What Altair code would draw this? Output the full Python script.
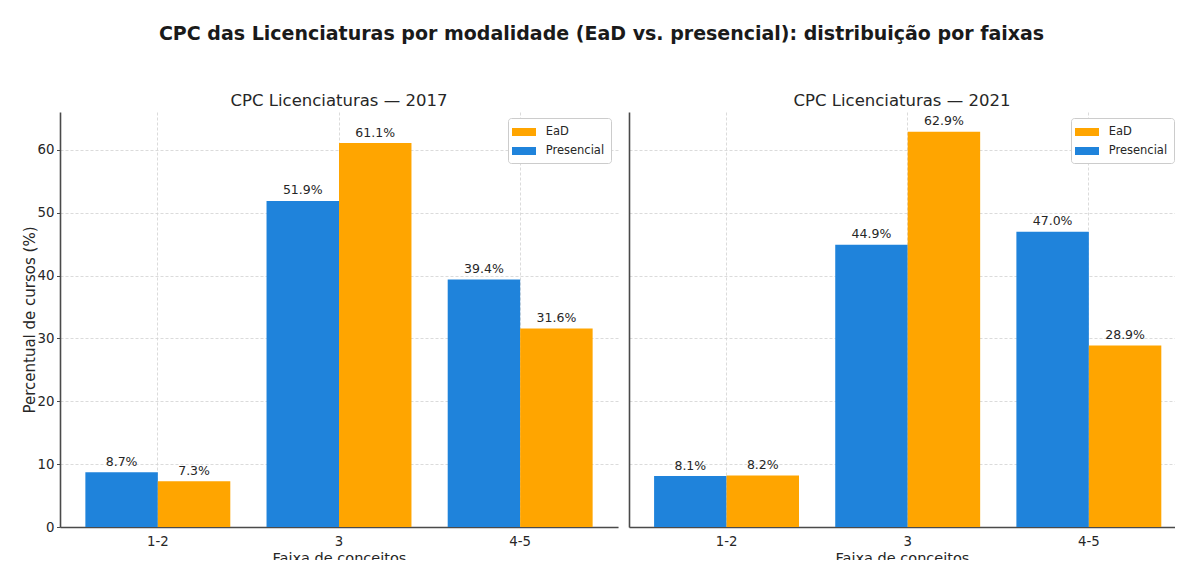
import altair as alt
import pandas as pd

# ---- data ----
faixas = ["1-2", "3", "4-5"]
modalidades = ["EaD", "Presencial"]
ordem_barras = ["Presencial", "EaD"]
presencial_2017 = [8.7, 51.9, 39.4]
ead_2017 = [7.3, 61.1, 31.6]
presencial_2021 = [8.1, 44.9, 47.0]
ead_2021 = [8.2, 62.9, 28.9]
y_ticks = [0, 10, 20, 30, 40, 50, 60]
y_max = 66.045

titulo = "CPC das Licenciaturas por modalidade (EaD vs. presencial): distribuição por faixas"
sub_2017 = "CPC Licenciaturas — 2017"
sub_2021 = "CPC Licenciaturas — 2021"
eixo_x = "Faixa de conceitos"
eixo_y = "Percentual de cursos (%)"

ORANGE = "#FFA500"
BLUE = "#1F83DB"
FONT = "DejaVu Sans"
GRID = "#d2d2d2"
AXIS = "#4a4a4a"
TEXT = "#262626"


def tabela(pres, ead):
    rows = []
    for f, p, e in zip(faixas, pres, ead):
        rows.append({"faixa": f, "modalidade": "Presencial", "valor": p, "rotulo": f"{p:.1f}%"})
        rows.append({"faixa": f, "modalidade": "EaD", "valor": e, "rotulo": f"{e:.1f}%"})
    return pd.DataFrame(rows)


def painel(df, titulo_painel, primeiro, largura, p_ext, alinhamento, leg_x):
    x = alt.X(
        "faixa:N", sort=faixas,
        scale=alt.Scale(paddingInner=0.2, paddingOuter=p_ext, align=alinhamento),
        axis=alt.Axis(
            title=eixo_x, labelAngle=0, grid=True, bandPosition=0.5,
            gridColor=GRID, gridDash=[3, 2], gridWidth=0.8,
            ticks=False, labelPadding=7.5, labelFontSize=13.3,
            titleFontSize=14.5, titlePadding=4,
            domainColor=AXIS, domainWidth=1.6,
        ),
    )
    xo = alt.XOffset("modalidade:N", sort=ordem_barras,
                     scale=alt.Scale(paddingInner=0, paddingOuter=0))
    if primeiro:
        yaxis = alt.Axis(
            values=y_ticks, grid=True, gridColor=GRID, gridDash=[3, 2], gridWidth=0.8,
            title=eixo_y, titleFontSize=15, titlePadding=0,
            labelFontSize=13.3, labelPadding=2.5, tickSize=3.5, tickColor=AXIS,
            domainColor=AXIS, domainWidth=1.6,
        )
    else:
        yaxis = alt.Axis(
            values=y_ticks, grid=True, gridColor=GRID, gridDash=[3, 2], gridWidth=0.8,
            title=None, labels=False, ticks=False,
            domainColor=AXIS, domainWidth=1.6,
        )
    y = alt.Y("valor:Q", scale=alt.Scale(domain=[0, y_max], nice=False, zero=True), axis=yaxis)

    cor = alt.Color(
        "modalidade:N",
        scale=alt.Scale(domain=modalidades, range=[ORANGE, BLUE]),
        legend=alt.Legend(
            title=None, orient="none", legendX=leg_x, legendY=6,
            symbolType="M-1.5,-0.5L1.5,-0.5L1.5,0.5L-1.5,0.5Z", symbolSize=256,
            symbolStrokeWidth=0, symbolOpacity=1, symbolOffset=2,
            labelFontSize=11.5, labelFont=FONT, labelColor=TEXT, labelOffset=13.7,
            padding=6, rowPadding=5, strokeColor="#cccccc", fillColor="#ffffff",
            cornerRadius=3,
        ),
    )

    barras = alt.Chart(df).mark_bar().encode(x=x, xOffset=xo, y=y, color=cor)
    rotulos = alt.Chart(df).mark_text(
        dy=-6.5, baseline="alphabetic", fontSize=12.5, font=FONT, color=TEXT
    ).encode(x=x, xOffset=xo, y=y, text="rotulo:N")

    return alt.layer(barras, rotulos).properties(
        width=largura, height=415,
        title=alt.TitleParams(titulo_painel, fontSize=16.5, font=FONT, fontWeight="normal",
                              color=TEXT, anchor="middle", offset=3),
    )


esq = painel(tabela(presencial_2017, ead_2017), sub_2017, True, 558, 0.14, 0.5, 448)
dir_ = painel(tabela(presencial_2021, ead_2021), sub_2021, False, 546, 0.107, 0.647, 442)

chart = (
    alt.hconcat(esq, dir_, spacing=11)
    .resolve_scale(x="independent", y="independent", color="independent", xOffset="independent")
    .properties(
        title=alt.TitleParams(titulo, fontSize=19, font=FONT, fontWeight="bold",
                              color="#1a1a1a", anchor="middle", offset=48.5, dx=3),
        padding={"left": 14, "top": 17, "right": 0, "bottom": -6},
    )
    .configure_view(strokeWidth=0)
    .configure_axis(labelFont=FONT, titleFont=FONT, labelColor=TEXT, titleColor=TEXT,
                    titleFontWeight="normal")
)

chart.save("out.html", embed_options={"renderer": "svg", "actions": False})
